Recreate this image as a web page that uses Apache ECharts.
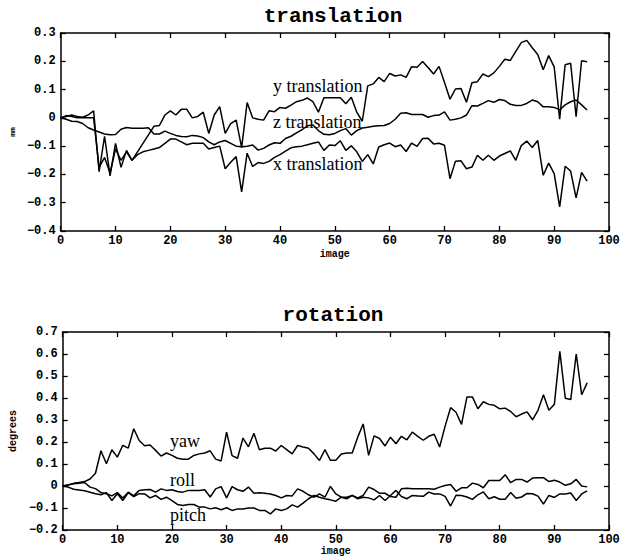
<!DOCTYPE html>
<html>
<head>
<meta charset="utf-8">
<script src="https://cdn.jsdelivr.net/npm/echarts@6/dist/echarts.min.js"></script>
<style>html,body{margin:0;padding:0;background:#fff}#c{width:631px;height:559px}</style>
</head>
<body>
<div id="c"></div>
<script>
// image index (x values)
const images = [0,1,2,3,4,5,6,7,8,9,10,11,12,13,14,15,16,17,18,19,20,21,22,23,24,25,26,27,28,29,30,31,32,33,34,35,36,37,38,39,40,41,42,43,44,45,46,47,48,49,50,51,52,53,54,55,56,57,58,59,60,61,62,63,64,65,66,67,68,69,70,71,72,73,74,75,76,77,78,79,80,81,82,83,84,85,86,87,88,89,90,91,92,93,94,95,96];

// translation (mm)
const yTranslation = [0,0.005,0.01,0.005,0.002,0.01,0.025,-0.19,-0.065,-0.205,
  -0.09,-0.175,-0.115,-0.15,-0.12,-0.09,-0.06,-0.03,-0.027,0.01,
  0.025,0.01,0.03,0.03,0.0,0.005,0.02,-0.055,0.01,0.04,
  -0.055,-0.02,-0.008,-0.105,0.054,0.0,-0.005,-0.008,0.025,0.022,
  0.037,0.034,0.045,0.057,0.062,0.07,0.057,0.02,0.071,0.071,
  0.071,0.071,0.05,0.073,0.02,-0.012,0.113,0.12,0.143,0.128,
  0.157,0.148,0.152,0.143,0.181,0.179,0.199,0.178,0.155,0.182,
  0.125,0.066,0.102,0.104,0.055,0.124,0.128,0.155,0.146,0.159,
  0.182,0.207,0.203,0.235,0.266,0.274,0.248,0.224,0.17,0.22,
  0.18,-0.005,0.188,0.193,0.004,0.202,0.198];
const zTranslation = [0,-0.005,-0.012,-0.013,-0.02,-0.035,-0.043,-0.05,-0.057,-0.06,
  -0.059,-0.04,-0.034,-0.037,-0.037,-0.037,-0.035,-0.057,-0.057,-0.047,
  -0.055,-0.062,-0.066,-0.067,-0.062,-0.064,-0.07,-0.085,-0.095,-0.085,
  -0.08,-0.09,-0.1,-0.102,-0.1,-0.096,-0.114,-0.108,-0.096,-0.088,
  -0.09,-0.073,-0.065,-0.053,-0.042,-0.028,-0.025,-0.045,-0.058,-0.06,
  -0.055,-0.045,-0.038,-0.061,-0.045,-0.036,-0.033,-0.03,-0.028,-0.027,
  -0.02,-0.005,0.016,0.018,0.012,0.012,0.012,0.002,0.008,0.01,
  0.021,-0.008,-0.005,0.0,0.01,0.043,0.042,0.051,0.061,0.055,
  0.065,0.061,0.048,0.044,0.044,0.051,0.063,0.057,0.039,0.039,
  0.037,0.028,0.046,0.057,0.063,0.046,0.028];
const xTranslation = [0,0.008,0.005,0.0,0.0,0.0,0.0,-0.175,-0.14,-0.195,
  -0.11,-0.15,-0.12,-0.15,-0.13,-0.12,-0.115,-0.11,-0.105,-0.09,
  -0.075,-0.075,-0.085,-0.095,-0.09,-0.09,-0.09,-0.11,-0.105,-0.1,
  -0.18,-0.157,-0.137,-0.262,-0.125,-0.172,-0.158,-0.161,-0.154,-0.14,
  -0.13,-0.118,-0.106,-0.102,-0.1,-0.095,-0.09,-0.085,-0.115,-0.096,
  -0.098,-0.081,-0.115,-0.099,-0.12,-0.154,-0.13,-0.163,-0.103,-0.095,
  -0.089,-0.102,-0.096,-0.119,-0.089,-0.101,-0.073,-0.072,-0.092,-0.09,
  -0.097,-0.215,-0.153,-0.152,-0.18,-0.174,-0.132,-0.15,-0.132,-0.15,
  -0.135,-0.126,-0.117,-0.15,-0.098,-0.082,-0.105,-0.08,-0.203,-0.16,
  -0.197,-0.315,-0.171,-0.188,-0.283,-0.193,-0.224];

// rotation (degrees)
const yaw = [0,0.005,0.012,0.016,0.02,0.032,0.058,0.16,0.101,0.165,
  0.131,0.185,0.172,0.26,0.207,0.183,0.186,0.162,0.136,0.15,
  0.139,0.126,0.122,0.122,0.139,0.146,0.15,0.16,0.122,0.114,
  0.245,0.138,0.126,0.218,0.178,0.24,0.165,0.172,0.172,0.159,
  0.184,0.165,0.146,0.184,0.177,0.172,0.146,0.116,0.165,0.117,
  0.117,0.145,0.15,0.15,0.222,0.282,0.139,0.228,0.216,0.182,
  0.222,0.192,0.226,0.21,0.245,0.226,0.208,0.226,0.235,0.177,
  0.272,0.356,0.335,0.28,0.405,0.405,0.351,0.383,0.371,0.367,
  0.351,0.354,0.339,0.315,0.327,0.337,0.301,0.344,0.415,0.344,
  0.372,0.612,0.399,0.393,0.6,0.415,0.469];
const roll = [0,0.005,0.01,0.013,0.016,-0.005,-0.012,-0.03,-0.035,-0.045,
  -0.03,-0.055,-0.028,-0.045,-0.02,-0.017,-0.016,-0.028,-0.013,-0.02,
  -0.017,-0.025,-0.028,-0.02,-0.02,-0.02,-0.017,-0.05,-0.013,-0.003,
  -0.054,-0.003,-0.017,-0.024,-0.005,-0.033,-0.031,-0.033,-0.036,-0.043,
  -0.054,-0.043,-0.045,-0.013,-0.024,-0.04,-0.051,-0.036,-0.051,-0.002,
  -0.036,-0.051,-0.051,-0.043,-0.054,-0.043,-0.005,-0.016,-0.033,-0.033,
  -0.048,-0.051,-0.013,-0.01,-0.013,-0.012,-0.013,-0.012,-0.015,-0.005,
  0.002,0.007,-0.024,-0.008,-0.008,0.013,0.007,-0.008,0.025,0.025,
  0.025,0.051,0.015,0.03,0.03,0.018,0.036,0.038,0.038,0.02,
  0.026,0.018,0.003,0.01,0.03,0.0,-0.004];
const pitch = [0,-0.005,-0.015,-0.018,-0.022,-0.028,-0.035,-0.04,-0.03,-0.066,
  -0.035,-0.066,-0.03,-0.048,-0.035,-0.036,-0.054,-0.043,-0.061,-0.051,
  -0.066,-0.084,-0.089,-0.084,-0.084,-0.096,-0.096,-0.104,-0.099,-0.108,
  -0.099,-0.111,-0.104,-0.105,-0.1,-0.1,-0.111,-0.111,-0.127,-0.104,
  -0.111,-0.104,-0.086,-0.096,-0.078,-0.058,-0.043,-0.051,-0.058,-0.063,
  -0.069,-0.051,-0.058,-0.043,-0.058,-0.051,-0.054,-0.063,-0.043,-0.066,
  -0.043,-0.02,-0.048,-0.058,-0.043,-0.045,-0.047,-0.028,-0.036,-0.036,
  -0.047,-0.091,-0.042,-0.043,-0.05,-0.061,-0.04,-0.027,-0.058,-0.049,
  -0.06,-0.06,-0.03,-0.056,-0.05,-0.034,-0.035,-0.046,-0.082,-0.043,
  -0.052,-0.036,-0.036,-0.032,-0.066,-0.036,-0.022];

// axis settings
const xTicks = {min: 0, max: 100, interval: 10};
const transTicks = {min: -0.4, max: 0.3, interval: 0.1};
const rotTicks = {min: -0.2, max: 0.7, interval: 0.1};

const monoFont = '"Liberation Mono", "DejaVu Sans Mono", monospace';
const serifFont = '"Liberation Serif", "DejaVu Serif", serif';
const ink = '#000';

function fmtY(v) {
  if (Math.abs(v) < 1e-9) return '0';
  return v.toFixed(1).replace('-', '\u2212');
}

const boxLine = {show: true, onZero: false, lineStyle: {color: ink, width: 1.5}};
const inTick = {show: true, inside: true, length: 5, lineStyle: {color: ink, width: 1.3}};

function xAxes(gi, nameGap) {
  return [
    {gridIndex: gi, type: 'value', position: 'bottom', min: xTicks.min, max: xTicks.max, interval: xTicks.interval,
     name: 'image', nameLocation: 'middle', nameGap: nameGap,
     nameTextStyle: {fontFamily: monoFont, fontSize: 10, fontWeight: 'bold', color: ink},
     axisLine: boxLine, axisTick: inTick,
     axisLabel: {fontFamily: monoFont, fontSize: 12, fontWeight: 'bold', color: ink, margin: 4},
     splitLine: {show: false}},
    {gridIndex: gi, type: 'value', position: 'top', min: xTicks.min, max: xTicks.max, interval: xTicks.interval,
     axisLine: boxLine, axisTick: inTick,
     axisLabel: {show: false}, splitLine: {show: false}}
  ];
}
function yAxes(gi, t, name, nameSize, gap) {
  return [
    {gridIndex: gi, type: 'value', position: 'left', min: t.min, max: t.max, interval: t.interval,
     name: name, nameLocation: 'middle', nameGap: gap, nameRotate: 90,
     nameTextStyle: {fontFamily: monoFont, fontSize: nameSize, fontWeight: 'bold', color: ink},
     axisLine: boxLine, axisTick: inTick,
     axisLabel: {fontFamily: monoFont, fontSize: 12, fontWeight: 'bold', color: ink, margin: 5, formatter: fmtY},
     splitLine: {show: false}},
    {gridIndex: gi, type: 'value', position: 'right', min: t.min, max: t.max, interval: t.interval,
     axisLine: boxLine, axisTick: inTick,
     axisLabel: {show: false}, splitLine: {show: false}}
  ];
}

function lineSeries(name, values, xi, yi) {
  return {
    name: name, type: 'line', xAxisIndex: xi, yAxisIndex: yi,
    data: values.map((v, i) => [images[i], v]),
    showSymbol: false, symbol: 'none', smooth: false,
    lineStyle: {color: ink, width: 1.5}, silent: true, animation: false
  };
}

const chart = echarts.init(document.getElementById('c'), null, {renderer: 'svg'});
chart.setOption({
  animation: false,
  backgroundColor: '#fff',
  grid: [
    {left: 57, right: 22, top: 33, height: 198, containLabel: false},
    {left: 59, right: 22, top: 332, height: 198, containLabel: false}
  ],
  xAxis: [...xAxes(0, 18), ...xAxes(1, 16)],
  yAxis: [...yAxes(0, transTicks, 'mm', 8, 40), ...yAxes(1, rotTicks, 'degrees', 10, 38)],
  series: [
    lineSeries('y translation', yTranslation, 0, 0),
    lineSeries('z translation', zTranslation, 0, 0),
    lineSeries('x translation', xTranslation, 0, 0),
    lineSeries('yaw', yaw, 2, 2),
    lineSeries('roll', roll, 2, 2),
    lineSeries('pitch', pitch, 2, 2)
  ],
  graphic: [
    {type: 'text', x: 333, y: 16, style: {text: 'translation', font: 'bold 21px ' + monoFont, fill: ink, textAlign: 'center', textVerticalAlign: 'middle'}},
    {type: 'text', x: 333, y: 315, style: {text: 'rotation', font: 'bold 21px ' + monoFont, fill: ink, textAlign: 'center', textVerticalAlign: 'middle'}},
    {type: 'text', x: 273, y: 86, style: {text: 'y translation', font: '18px ' + serifFont, fill: ink, textVerticalAlign: 'middle'}},
    {type: 'text', x: 273, y: 122, style: {text: 'z translation', font: '18px ' + serifFont, fill: ink, textVerticalAlign: 'middle'}},
    {type: 'text', x: 273, y: 164, style: {text: 'x translation', font: '18px ' + serifFont, fill: ink, textVerticalAlign: 'middle'}},
    {type: 'text', x: 170, y: 441, style: {text: 'yaw', font: '18px ' + serifFont, fill: ink, textVerticalAlign: 'middle'}},
    {type: 'text', x: 170, y: 480, style: {text: 'roll', font: '18px ' + serifFont, fill: ink, textVerticalAlign: 'middle'}},
    {type: 'text', x: 170, y: 515, style: {text: 'pitch', font: '18px ' + serifFont, fill: ink, textVerticalAlign: 'middle'}}
  ]
});
</script>
</body>
</html>
